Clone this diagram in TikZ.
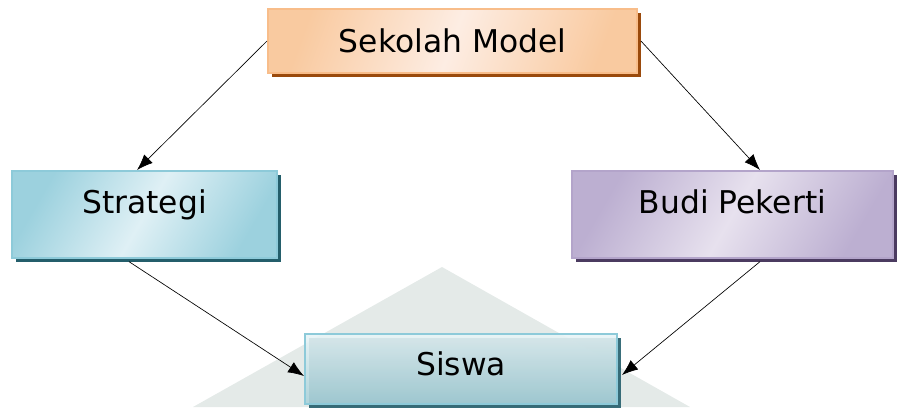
\documentclass[tikz,border=0pt]{standalone}
\usepackage{fontspec}
\setmainfont{DejaVu Sans}
\usetikzlibrary{arrows.meta,shadows}
\definecolor{orangeedge}{HTML}{F8BD8A}
\definecolor{orangefill}{HTML}{F9CAA0}
\definecolor{orangemid}{HTML}{FDEDE3}
\definecolor{orangeshadow}{HTML}{9A4A0C}
\definecolor{blueedge}{HTML}{8DCAD9}
\definecolor{bluefill}{HTML}{9CD1DE}
\definecolor{bluemid}{HTML}{DFF0F5}
\definecolor{blueshadow}{HTML}{245E6B}
\definecolor{purpleedge}{HTML}{B3A4CA}
\definecolor{purplefill}{HTML}{BCAFD1}
\definecolor{purplemid}{HTML}{E7E1EE}
\definecolor{purpleshadow}{HTML}{4B3B60}
\definecolor{sisatop}{HTML}{E9F5F7}
\definecolor{sisabottom}{HTML}{A9D1D9}
\definecolor{trianglegray}{HTML}{E4EAE8}
\begin{document}
\begin{tikzpicture}[x=0.75pt,y=-0.75pt,
    box/.style={rectangle, inner sep=0pt, line width=1.5pt, text=black,
      font=\fontsize{23.5pt}{28pt}\selectfont, text height=18pt},
    arrow/.style={-{Latex[length=12pt,width=9pt]}, line width=0.5pt}]
  \useasboundingbox (0,0) rectangle (898,407);
  \fill[trianglegray] (442,267) -- (193,407) -- (690,407) -- cycle;
  \node[box, draw=orangeedge, left color=orangefill, right color=orangefill, middle color=orangemid,
    shading angle=70, general shadow={fill=orangeshadow, shadow xshift=3pt, shadow yshift=-3pt},
    minimum width=276.75pt, minimum height=48pt, text depth=1.5pt] (sm) at (452.5,41) {Sekolah Model};
  \node[box, draw=blueedge, left color=bluefill, right color=bluefill, middle color=bluemid,
    shading angle=60, general shadow={fill=blueshadow, shadow xshift=3pt, shadow yshift=-3pt},
    minimum width=198.75pt, minimum height=65.25pt, text depth=20pt] (st) at (144.5,214.5) {Strategi};
  \node[box, draw=purpleedge, left color=purplefill, right color=purplefill, middle color=purplemid,
    shading angle=60, general shadow={fill=purpleshadow, shadow xshift=3pt, shadow yshift=-3pt},
    minimum width=240.75pt, minimum height=65.25pt, text depth=20pt] (bp) at (732.5,214.5) {Budi Pekerti};
  \node[box, draw=blueedge, top color=sisatop, bottom color=sisabottom, fill opacity=0.9, text opacity=1,
    general shadow={fill=blueshadow, shadow xshift=3pt, shadow yshift=-3pt},
    minimum width=234pt, minimum height=52.5pt, text depth=9pt] (sw) at (461,369) {Siswa};
  \draw[arrow] (sm.west) -- ([xshift=-5.6pt]st.north);
  \draw[arrow] ([xshift=2.2pt]sm.east) -- ([xshift=20.6pt]bp.north);
  \draw[arrow] ([xshift=-11.6pt,yshift=-2pt]st.south) -- ([yshift=-5.25pt]sw.west);
  \draw[arrow] ([xshift=20.6pt,yshift=-2pt]bp.south) -- ([xshift=3pt,yshift=-4.5pt]sw.east);
\end{tikzpicture}
\end{document}
